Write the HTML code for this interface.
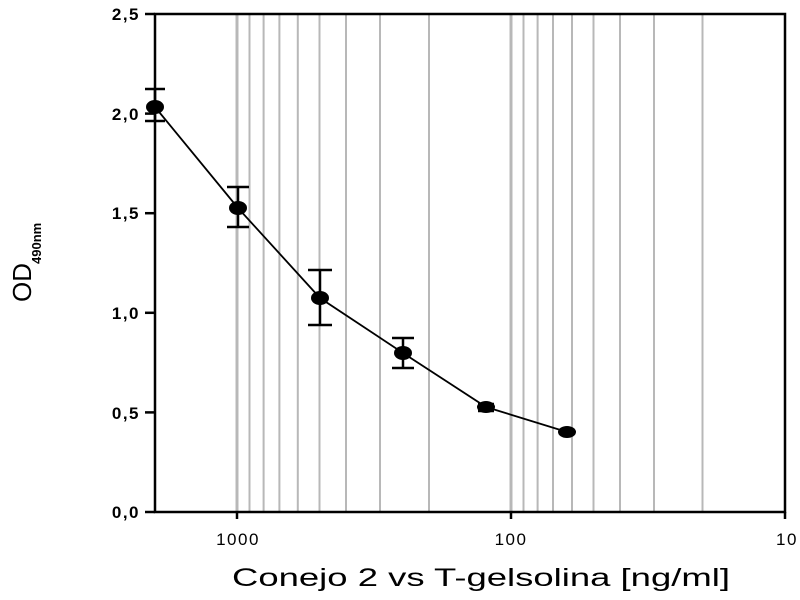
<!DOCTYPE html>
<html><head><meta charset="utf-8"><style>
html,body{margin:0;padding:0;background:#fff;}
svg{display:block;}
text{font-family:"Liberation Sans",sans-serif;}
</style></head><body>
<svg width="800" height="600" viewBox="0 0 800 600" xmlns="http://www.w3.org/2000/svg">
<g stroke="#b8b8b8" stroke-width="2">
<line x1="237" y1="14" x2="237" y2="512" stroke-width="3"/>
<line x1="249.5" y1="14" x2="249.5" y2="512"/>
<line x1="263.6" y1="14" x2="263.6" y2="512"/>
<line x1="279.4" y1="14" x2="279.4" y2="512"/>
<line x1="297.8" y1="14" x2="297.8" y2="512"/>
<line x1="319.5" y1="14" x2="319.5" y2="512"/>
<line x1="346" y1="14" x2="346" y2="512"/>
<line x1="380" y1="14" x2="380" y2="512"/>
<line x1="429" y1="14" x2="429" y2="512"/>
<line x1="511" y1="14" x2="511" y2="512" stroke-width="3"/>
<line x1="523.5" y1="14" x2="523.5" y2="512"/>
<line x1="537.6" y1="14" x2="537.6" y2="512"/>
<line x1="553" y1="14" x2="553" y2="512"/>
<line x1="572" y1="14" x2="572" y2="512"/>
<line x1="593.5" y1="14" x2="593.5" y2="512"/>
<line x1="620" y1="14" x2="620" y2="512"/>
<line x1="654" y1="14" x2="654" y2="512"/>
<line x1="702.5" y1="14" x2="702.5" y2="512"/>
</g>
<g stroke="#000" stroke-width="2.5" fill="none">
<rect x="155" y="14" width="630" height="498"/>
<line x1="145" y1="14" x2="155" y2="14"/>
<line x1="145" y1="113.6" x2="155" y2="113.6"/>
<line x1="145" y1="213.2" x2="155" y2="213.2"/>
<line x1="145" y1="312.8" x2="155" y2="312.8"/>
<line x1="145" y1="412.4" x2="155" y2="412.4"/>
<line x1="145" y1="512" x2="155" y2="512"/>
<line x1="237" y1="512" x2="237" y2="519"/>
<line x1="511" y1="512" x2="511" y2="519"/>
<line x1="785" y1="512" x2="785" y2="519"/>
</g>
<polyline points="155,107 238,208 320,298 403,353 486,407 567,432" fill="none" stroke="#000" stroke-width="1.8"/>
<g stroke="#000" stroke-width="2.5">
<line x1="155" y1="89" x2="155" y2="121"/><line x1="145" y1="89" x2="165" y2="89"/><line x1="145" y1="121" x2="165" y2="121"/>
<line x1="238" y1="187" x2="238" y2="227"/><line x1="227" y1="187" x2="249" y2="187"/><line x1="227" y1="227" x2="249" y2="227"/>
<line x1="320" y1="270" x2="320" y2="325"/><line x1="308" y1="270" x2="332" y2="270"/><line x1="308" y1="325" x2="332" y2="325"/>
<line x1="403" y1="338" x2="403" y2="368"/><line x1="392" y1="338" x2="414" y2="338"/><line x1="392" y1="368" x2="414" y2="368"/>
<line x1="478" y1="404" x2="494" y2="404"/><line x1="478" y1="411" x2="494" y2="411"/>
</g>
<g fill="#000">
<ellipse cx="155" cy="107" rx="9" ry="7"/>
<ellipse cx="238" cy="208" rx="9" ry="7"/>
<ellipse cx="320" cy="298" rx="9" ry="7"/>
<ellipse cx="403" cy="353" rx="9" ry="7"/>
<ellipse cx="486" cy="407" rx="9" ry="6"/>
<ellipse cx="567" cy="432" rx="9" ry="6"/>
</g>
<g font-size="17" font-weight="bold" text-anchor="end" letter-spacing="1.5">
<text x="140" y="20">2,5</text>
<text x="140" y="120">2,0</text>
<text x="140" y="219">1,5</text>
<text x="140" y="319">1,0</text>
<text x="140" y="419">0,5</text>
<text x="140" y="518">0,0</text>
</g>
<g font-size="17" text-anchor="middle" letter-spacing="1.5">
<text x="238" y="545">1000</text>
<text x="511" y="545">100</text>
<text x="787" y="545">10</text>
</g>
<text x="232" y="586" font-size="25" textLength="498" lengthAdjust="spacingAndGlyphs">Conejo 2 vs T-gelsolina [ng/ml]</text>
<g transform="translate(31,302) rotate(-90)">
<text x="0" y="0" font-size="26">OD</text>
<text x="38" y="10" font-size="13" font-weight="bold">490nm</text>
</g>
</svg>
</body></html>
